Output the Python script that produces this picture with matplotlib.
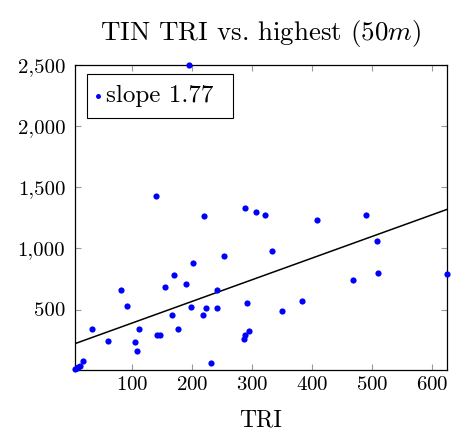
import matplotlib
matplotlib.use("Agg")
import matplotlib.pyplot as plt
from matplotlib.ticker import FuncFormatter
import numpy as np

plt.rcParams['font.family'] = 'cmr10'
plt.rcParams['mathtext.fontset'] = 'cm'
plt.rcParams['axes.formatter.use_mathtext'] = True

# TRI vs highest
tri = [5.3, 8, 11, 13.7, 19, 33, 60, 82, 92, 104.7, 108, 112.5, 142, 146,
       154.7, 167.5, 170, 176, 190, 198.7, 202.5, 219, 223.7, 231, 241, 242,
       253, 286, 289, 291, 294.7, 307, 322, 333, 350, 382.5, 409, 469, 490,
       507.5, 510, 624, 195, 140, 220, 289]
highest = [16, 25, 29, 38, 76, 344, 242, 660, 526, 232, 158, 344, 289, 289,
           684, 455, 782, 338, 706, 520, 878, 455, 510, 62, 660, 512,
           938, 262, 295, 553, 327, 1300, 1273, 982, 491, 567, 1230, 741, 1268,
           1060, 802, 794, 2500, 1424, 1265, 1326]

slope = 1.77
intercept = 212

fig = plt.figure(figsize=(4.52, 4.34), dpi=100)
ax = fig.add_axes([0.166, 0.1486, 0.822, 0.7024])

x = np.array(tri)
y = np.array(highest)
ax.scatter(x, y, s=20, color='#0000ff', zorder=3, label='slope 1.77 ',
           linewidths=0, clip_on=False)
xx = np.array([x.min(), x.max()])
ax.plot(xx, slope * xx + intercept, color='black', lw=1.1, zorder=2)

ax.set_xlim(x.min(), x.max())
ax.set_ylim(10, y.max())
ax.set_xticks([100, 200, 300, 400, 500, 600])
ax.set_yticks([500, 1000, 1500, 2000, 2500])
ax.yaxis.set_major_formatter(FuncFormatter(lambda v, p: f"{int(v):,}"))
ax.tick_params(direction='in', top=True, right=True, length=4, color='#999999',
               labelsize=15)
ax.tick_params(axis='x', pad=5)
ax.tick_params(axis='y', pad=7)
for s in ax.spines.values():
    s.set_linewidth(0.9)

ax.set_xlabel('TRI', fontsize=17, labelpad=11)
ax.set_title(r'TIN TRI vs. highest (50$m$)', fontsize=19.4, pad=18)

leg = ax.legend(loc='upper left', bbox_to_anchor=(0.0323, 0.968), fontsize=18,
                handletextpad=0.3, handlelength=0.05, fancybox=False, framealpha=1,
                edgecolor='black', borderpad=0.42, borderaxespad=0, markerscale=0.8)
leg.get_frame().set_linewidth(0.8)

fig.savefig('out.png', dpi=100)
